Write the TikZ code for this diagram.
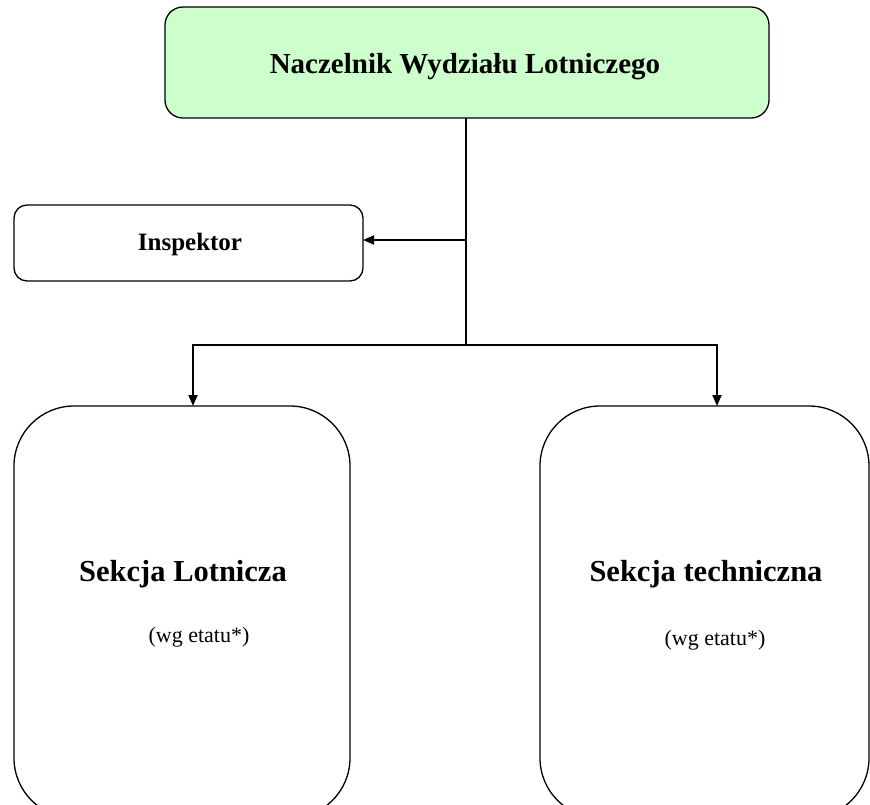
\documentclass[tikz,border=0pt]{standalone}
\usepackage{fontspec}
\setmainfont{Liberation Serif}
\usetikzlibrary{arrows.meta}
\definecolor{headfill}{HTML}{CCFFCC}
\tikzset{
  unitbox/.style={draw=black, line width=1.3pt, rounded corners=#1, inner sep=0pt},
  link/.style={draw=black, line width=1.8pt},
  arr/.style={link, -{Triangle[length=11pt, width=9pt]}},
}
\begin{document}
\begin{tikzpicture}[x=1pt, y=-1pt]
  \useasboundingbox (0,0) rectangle (870,804);
  \clip (0,0) rectangle (870,804);

  % boxes
  \draw[unitbox=18pt, fill=headfill] (165,7) rectangle (769,118);
  \node (head) at (465,67) {\fontsize{29}{33}\selectfont\bfseries Naczelnik Wydziału Lotniczego};
  \coordinate (headS) at (466,118);

  \draw[unitbox=13pt] (14,205) rectangle (363,281);
  \node (insp) at (190,244) {\fontsize{25}{29}\selectfont\bfseries Inspektor};
  \coordinate (inspE) at (363,240);

  \draw[unitbox=60pt] (14,406) rectangle (350,818);
  \node (secA) at (183,574) {\fontsize{30.5}{35}\selectfont\bfseries Sekcja Lotnicza};
  \node (secAn) at (199,637) {\fontsize{22}{26}\selectfont (wg etatu*)};
  \coordinate (secAN) at (193,406);

  \draw[unitbox=60pt] (540,406) rectangle (869,818);
  \node (secB) at (706,574) {\fontsize{30.5}{35}\selectfont\bfseries Sekcja techniczna};
  \node (secBn) at (715,640) {\fontsize{22}{26}\selectfont (wg etatu*)};
  \coordinate (secBN) at (717,406);

  % connectors
  \coordinate (branchI) at (466,240);
  \coordinate (branchS) at (466,345);
  \draw[link] (headS) -- (branchS);
  \draw[arr] (branchI) -- (inspE);
  \draw[arr] (branchS) -| (secAN);
  \draw[arr] (branchS) -| (secBN);
\end{tikzpicture}
\end{document}
